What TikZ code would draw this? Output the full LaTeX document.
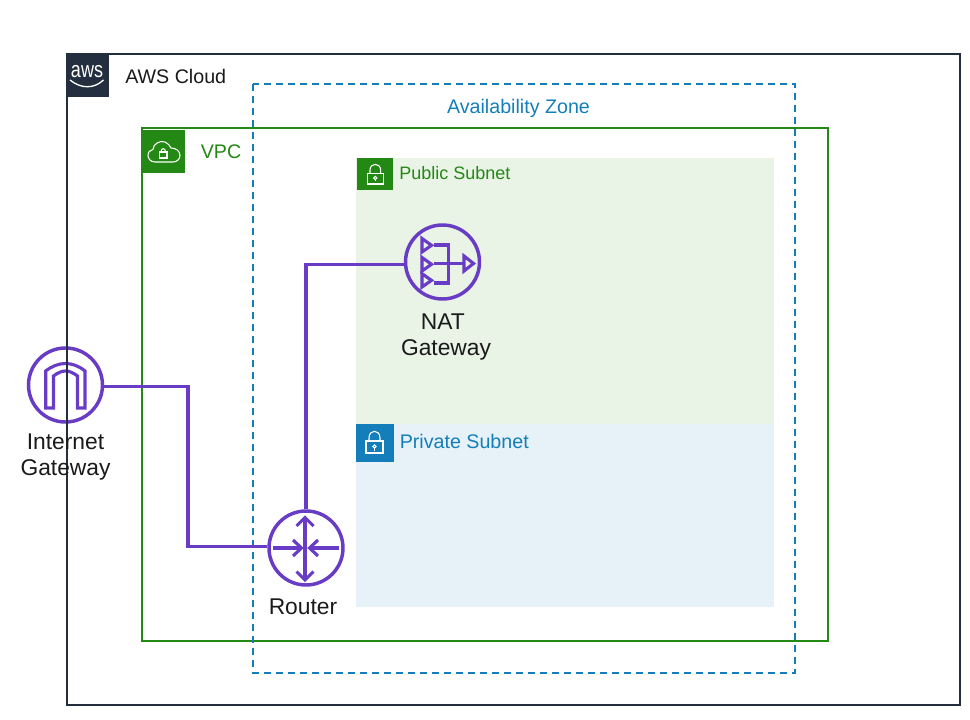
\documentclass[tikz,border=0pt]{standalone}
\usepackage{fontspec}
\setmainfont{Liberation Sans}
\definecolor{awsdark}{HTML}{232F3E}
\definecolor{awsgreen}{HTML}{248814}
\definecolor{awsblue}{HTML}{147EBA}
\definecolor{awspurple}{HTML}{693CC5}
\definecolor{pubfill}{HTML}{E9F3E6}
\definecolor{privfill}{HTML}{E6F2F8}
\definecolor{labeldark}{HTML}{1A1A1A}
\tikzset{
  icon/.style={circle, draw=awspurple, line width=2.6pt, minimum size=55.5pt, inner sep=0pt},
  glyph/.style={draw=awspurple, line width=2.35pt, line join=miter},
  link/.style={draw=awspurple, line width=2.4pt},
  inner/.style={draw=white, line width=0.8pt},
  title/.style={font=\fontsize{14.75}{17}\selectfont, inner sep=0pt},
  iconlabel/.style={font=\fontsize{17.1}{19.6}\selectfont, text=labeldark, align=center, inner sep=0pt}
}
\begin{document}
\begin{tikzpicture}[x=0.75pt, y=-0.75pt]
\useasboundingbox (0,0) rectangle (970,720);

% Internet gateway sits under the cloud frame
\node[icon] (igw) at (65.5,385) {};
\draw[glyph] (45.7,408) -- (45.7,371) .. controls (52,366) and (59,363.5) .. (65.5,363.5)
  .. controls (72,363.5) and (79,366) .. (85,371) -- (85,408) -- (77.5,408) -- (77.5,376)
  .. controls (73,372.5) and (69,371) .. (65.5,371) .. controls (62,371) and (58,372.5) .. (53.5,376)
  -- (53.5,408) -- cycle;

% Frames
\draw[awsdark, line width=1.5pt] (66.5,54) rectangle (960,705);
\fill[pubfill] (356,158) rectangle (774,424);
\fill[privfill] (356,424) rectangle (774,607);
\draw[awsgreen, line width=1.3pt] (142,128) rectangle (828,641);
\draw[awsblue, line width=0.8pt, dash pattern=on 5.6pt off 3.4pt] (253,84) rectangle (795,673);

% Header squares
\fill[awsdark] (66,54) rectangle (109,97);
\fill[awsgreen] (142.5,130) rectangle (185,173);
\fill[awsgreen] (357,158) rectangle (393,190);
\fill[awsblue] (356,424) rectangle (393.5,462);

% AWS logo
\node[font=\fontsize{13.5}{15}\selectfont, text=white, inner sep=0pt] (logo) at (87,71.3) {\scalebox{1}[1.25]{aws}};
\draw[inner, line width=1pt] (70,80) .. controls (81,89) and (94,89) .. (103.5,80);

% VPC cloud
\draw[inner] (155,162) .. controls (150,162) and (148,158) .. (148,155.5)
  .. controls (148,152) and (150,150) .. (153,149.5) .. controls (153,144) and (160,140) .. (165,142)
  .. controls (168,143) and (170,146) .. (171,148) .. controls (176,148) and (180,151) .. (180,155.5)
  .. controls (180,159) and (177,162) .. (173,162) -- cycle;
\draw[inner] (159.5,152) rectangle (167,158);
\draw[inner] (161,152) .. controls (161,147.5) and (165.5,147.5) .. (165.5,152);

% Subnet locks
\draw[inner] (367.3,173.3) rectangle (383.3,184);
\draw[inner] (370,173.3) -- (370,170) .. controls (370,162.5) and (380.6,162.5) .. (380.6,170) -- (380.6,173.3);
\draw[inner] (375.3,178) circle (1.6);
\draw[inner] (375.3,179.6) -- (375.3,181.5);
\draw[inner] (366,441) rectangle (383,453);
\draw[inner] (369,441) -- (369,438) .. controls (369,429) and (380,429) .. (380,438) -- (380,441);
\draw[inner] (374.5,446.5) circle (1.6);
\draw[inner] (374.5,448.1) -- (374.5,451);

% Gateways and router
\node[icon] (nat) at (442.5,262) {};
\node[icon] (router) at (306,548) {};

\draw[glyph] (422,238.5) -- (431.5,245.3) -- (422,252) -- cycle;
\draw[glyph] (422,257.5) -- (431.5,264.3) -- (422,271) -- cycle;
\draw[glyph] (422,273.7) -- (431.5,280.4) -- (422,287) -- cycle;
\draw[glyph] (434,245) -- (448.5,245) -- (448.5,283) -- (434,283);
\draw[glyph] (434,263.5) -- (464,263.5);
\draw[glyph] (464,256) -- (473.5,263.5) -- (464,271) -- cycle;

\draw[glyph] (305,518) -- (305,580);
\draw[glyph] (296.5,526) -- (305,517.5) -- (313.5,526);
\draw[glyph] (296.5,571.5) -- (305,580) -- (313.5,571.5);
\draw[glyph] (272.5,548) -- (301,548);
\draw[glyph] (293,540) -- (301.5,548) -- (293,556);
\draw[glyph] (310,548) -- (339,548);
\draw[glyph] (318,540) -- (309.5,548) -- (318,556);

% Connectors
\coordinate (bend) at (188,466);
\draw[link] (igw.358) -| (bend) |- (router.178);
\draw[link] (router.north) |- (nat.184);

% Labels
\node[title, text=labeldark, anchor=base west] (cloudlabel) at (125,84) {AWS Cloud};
\node[title, text=awsblue, anchor=base] (zonelabel) at (518.5,114) {Availability Zone};
\node[title, text=awsgreen, anchor=base west] (vpclabel) at (200.5,159) {VPC};
\node[font=\fontsize{13.5}{16}\selectfont, text=awsgreen, anchor=base west, inner sep=0pt] (publabel) at (399,180) {Public Subnet};
\node[title, text=awsblue, anchor=base west] (privlabel) at (399.5,448.5) {Private Subnet};
\node[iconlabel] (igwlabel) at (65.5,457) {Internet\\Gateway};
\node[iconlabel] (natlabel) at (446,337) {NAT\hspace*{4.8pt}\\Gateway};
\node[iconlabel, anchor=base] (routerlabel) at (303,614) {Router};
\end{tikzpicture}
\end{document}
